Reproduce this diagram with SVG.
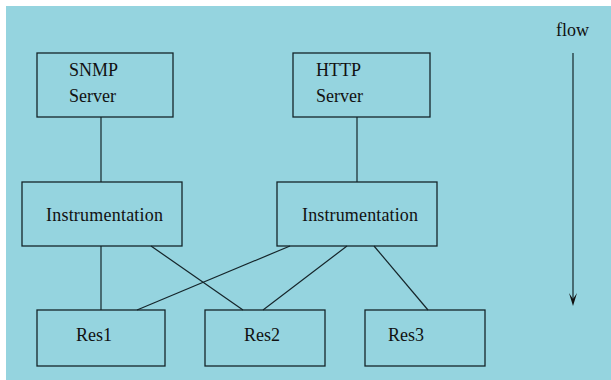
<svg xmlns="http://www.w3.org/2000/svg" width="611" height="380" viewBox="0 0 611 380">
<style>
.box{fill:none;stroke:#15252a;stroke-width:1.3}
.ln{stroke:#15252a;stroke-width:1.2;fill:none}
.t{font-family:"Liberation Serif","Times New Roman",serif;font-size:18px;fill:#111}
</style>
<rect x="0" y="0" width="611" height="380" fill="#ffffff"/>
<rect x="6" y="6" width="605" height="374" fill="#95d4df"/>
<g id="connectors">
<line class="ln" x1="101" y1="117" x2="101" y2="182"/>
<line class="ln" x1="357" y1="117" x2="357" y2="182"/>
<line class="ln" x1="101" y1="246" x2="101" y2="310"/>
<line class="ln" x1="151" y1="246" x2="243" y2="310"/>
<line class="ln" x1="290" y1="246" x2="137" y2="310"/>
<line class="ln" x1="347" y1="246" x2="263" y2="310"/>
<line class="ln" x1="374" y1="246" x2="428" y2="310"/>
</g>
<g id="flow">
<text class="t" x="556" y="36">flow</text>
<line class="ln" x1="573" y1="53" x2="573" y2="300"/>
<polygon points="569,293 573,306 577,293 573,299" fill="#111"/>
</g>
<g id="snmp-server">
<rect class="box" x="37" y="53" width="136" height="64"/>
<text class="t" x="69" y="76">SNMP</text>
<text class="t" x="69" y="102">Server</text>
</g>
<g id="http-server">
<rect class="box" x="293" y="53" width="137" height="64"/>
<text class="t" x="316" y="76">HTTP</text>
<text class="t" x="316" y="102">Server</text>
</g>
<g id="instr1">
<rect class="box" x="22" y="182" width="160" height="64"/>
<text class="t" x="46" y="221" textLength="117">Instrumentation</text>
</g>
<g id="instr2">
<rect class="box" x="277" y="182" width="160" height="64"/>
<text class="t" x="302" y="221" textLength="116">Instrumentation</text>
</g>
<g id="res1">
<rect class="box" x="37" y="310" width="128" height="56"/>
<text class="t" x="76" y="341">Res1</text>
</g>
<g id="res2">
<rect class="box" x="205" y="310" width="120" height="56"/>
<text class="t" x="244" y="341">Res2</text>
</g>
<g id="res3">
<rect class="box" x="365" y="310" width="120" height="56"/>
<text class="t" x="388" y="341">Res3</text>
</g>
</svg>
